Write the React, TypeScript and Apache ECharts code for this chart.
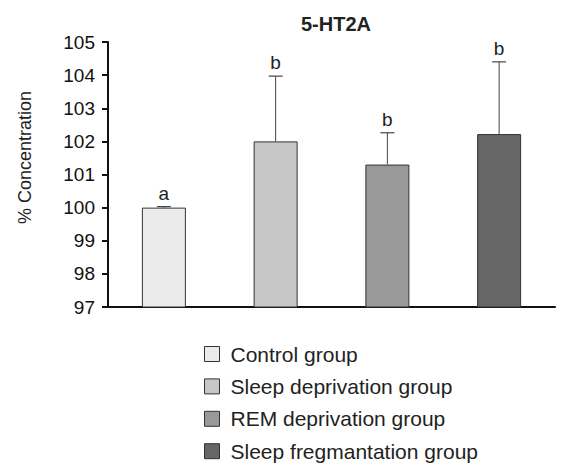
import React, { useEffect, useRef } from "react";
import * as echarts from "echarts";

const categories = ["Control group", "Sleep deprivation group", "REM deprivation group", "Sleep fregmantation group"];
const means = [100.0, 102.0, 101.3, 102.22];
const errors = [0.03, 1.97, 0.96, 2.18];
const letters = ["a", "b", "b", "b"];
const colors = ["#ebebeb", "#c5c6c5", "#999999", "#666666"];
const yTicks = { min: 97, max: 105, interval: 1 };

const FONT = "Liberation Sans, Arial, sans-serif";

export default function App() {
  const ref = useRef<HTMLDivElement>(null);
  useEffect(() => {
    document.body.style.margin = "0";
    const chart = echarts.init(ref.current!, null, { renderer: "svg" });
    const barSeries = categories.map((name, i) => ({
      name,
      type: "bar",
      barGap: "-100%",
      barWidth: 44,
      data: categories.map((_, j) => (j === i ? means[j] : "-")),
      itemStyle: { color: colors[i], borderColor: "#333", borderWidth: 1 },
      silent: true,
    }));
    const errData = categories.map((c, i) => [i, means[i], means[i] + errors[i]]);
    const option: any = {
      animation: false,
      backgroundColor: "#fff",
      textStyle: { fontFamily: FONT },
      title: {
        text: "5-HT2A",
        left: 331,
        textAlign: "center",
        top: 9,
        textStyle: { fontFamily: FONT, fontSize: 20, fontWeight: "bold", color: "#222" },
      },
      grid: { left: 108, right: 6, top: 42, height: 265 },
      legend: {
        orient: "vertical",
        left: 204,
        top: 343,
        padding: 0,
        itemWidth: 15,
        itemHeight: 15,
        itemGap: 10.4,
        icon: "rect",
        data: categories,
        textStyle: { fontFamily: FONT, fontSize: 21, color: "#222", lineHeight: 22, padding: [0, 0, 0, 6] },
        itemStyle: { borderColor: "#333", borderWidth: 1 },
      },
      xAxis: {
        type: "category",
        data: categories,
        axisLine: { lineStyle: { color: "#111", width: 2 } },
        axisTick: { show: false },
        axisLabel: { show: false },
      },
      yAxis: {
        type: "value",
        min: yTicks.min,
        max: yTicks.max,
        interval: yTicks.interval,
        name: "% Concentration",
        nameLocation: "middle",
        nameGap: 74,
        nameTextStyle: { fontFamily: FONT, fontSize: 18, color: "#222", padding: [0, 0, 0, 34] },
        axisLine: { show: true, lineStyle: { color: "#111", width: 2 } },
        axisTick: { show: true, length: 6, lineStyle: { color: "#111", width: 2 } },
        axisLabel: { fontFamily: FONT, fontSize: 19, color: "#111", margin: 13 },
        splitLine: { show: false },
      },
      series: [
        ...barSeries,
        {
          type: "custom",
          silent: true,
          data: errData,
          z: 5,
          renderItem: (params: any, api: any) => {
            const x = api.value(0);
            const base = api.coord([x, api.value(1)]);
            const top = api.coord([x, api.value(2)]);
            const half = 7;
            return {
              type: "group",
              children: [
                { type: "line", shape: { x1: base[0], y1: base[1], x2: top[0], y2: top[1] }, style: { stroke: "#444", lineWidth: 1 } },
                { type: "line", shape: { x1: top[0] - half, y1: top[1], x2: top[0] + half, y2: top[1] }, style: { stroke: "#444", lineWidth: 1.2 } },
                {
                  type: "text",
                  x: top[0],
                  y: top[1] - 4,
                  style: { text: letters[params.dataIndex], fontFamily: FONT, fontSize: 19, fill: "#222", align: "center", verticalAlign: "bottom" },
                },
              ],
            };
          },
        },
      ],
    };
    chart.setOption(option);
    return () => chart.dispose();
  }, []);
  return <div ref={ref} style={{ width: 561, height: 469 }} />;
}
